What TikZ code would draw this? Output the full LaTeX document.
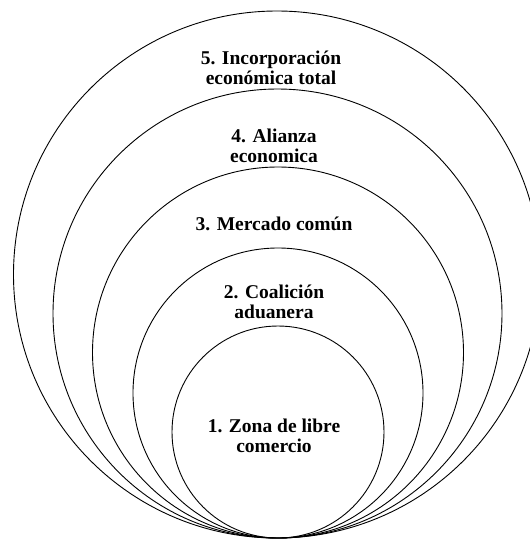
\documentclass[tikz,border=0pt]{standalone}
\usepackage{fontspec}
\setmainfont{Liberation Serif}
\begin{document}
\begin{tikzpicture}[x=1pt,y=-1pt,
  ring/.style={draw=black, line width=0.9pt, circle, inner sep=0pt},
  lbl/.style={align=center, inner sep=0pt, text=black, font=\bfseries\fontsize{19.5}{19.5}\selectfont}]
\useasboundingbox (0,0) rectangle (530,539);
\clip (0,0) rectangle (530,539);
\node[ring, minimum size=527pt] (c5) at (277,274.5) {};
\node[ring, minimum size=449pt] (c4) at (277.5,313.5) {};
\node[ring, minimum size=371pt] (c3) at (278,352.5) {};
\node[ring, minimum size=290pt] (c2) at (278,393) {};
\node[ring, minimum size=212pt] (c1) at (278,432) {};
\node[lbl] (t5) at (271,68) {5. Incorporación\\económica total};
\node[lbl] (t4) at (274,146) {4. Alianza\\economica};
\node[lbl] (t3) at (274,224) {3. Mercado común};
\node[lbl] (t2) at (274,302) {2. Coalición\\aduanera};
\node[lbl] (t1) at (274,436) {1. Zona de libre\\comercio};
\end{tikzpicture}
\end{document}
